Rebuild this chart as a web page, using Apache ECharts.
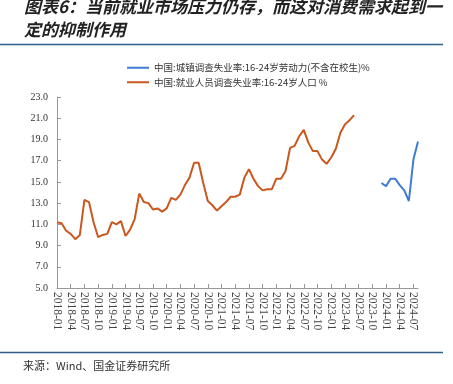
<!DOCTYPE html>
<html><head><meta charset="utf-8">
<script src="https://cdn.jsdelivr.net/npm/echarts@6/dist/echarts.min.js"></script>
<style>html,body{margin:0;padding:0;background:#fff}#c{width:453px;height:384px}</style>
</head><body><div id="c"></div>
<script>
// ---- data ----
const titleLines = ['图表6：当前就业市场压力仍存，而这对消费需求起到一', '定的抑制作用'];
const sourceText = '来源：Wind、国金证券研究所';
const firstYear = 2018, firstMonth = 1, lastYear = 2024, lastMonth = 8;
const categories = [];
for (let y = firstYear; y <= lastYear; y++) {
  for (let m = 1; m <= 12; m++) {
    if (y === firstYear && m < firstMonth) continue;
    if (y === lastYear && m > lastMonth) break;
    categories.push(y + '-' + (m < 10 ? '0' + m : '' + m));
  }
}
const seriesNames = ['中国:城镇调查失业率:16-24岁劳动力(不含在校生)%', '中国:就业人员调查失业率:16-24岁人口 %'];
// old series 2018-01 .. 2023-06
const oldStart = '2018-01';
const oldValues = [
  11.2, 11.1, 10.4, 10.1, 9.6, 10.0, 13.3, 13.1, 11.2, 9.8, 10.0, 10.1,
  11.2, 11.0, 11.3, 9.9, 10.5, 11.5, 13.9, 13.1, 13.0, 12.4, 12.5, 12.2,
  12.5, 13.5, 13.3, 13.8, 14.7, 15.4, 16.8, 16.8, 14.9, 13.2, 12.8, 12.3,
  12.7, 13.1, 13.6, 13.6, 13.8, 15.4, 16.2, 15.3, 14.6, 14.2, 14.3, 14.3,
  15.3, 15.3, 16.0, 18.2, 18.4, 19.3, 19.9, 18.7, 17.9, 17.9, 17.1, 16.7,
  17.3, 18.1, 19.6, 20.4, 20.8, 21.3
];
// new series 2023-12 .. 2024-08
const newStart = '2023-12';
const newValues = [14.9, 14.6, 15.3, 15.3, 14.7, 14.2, 13.2, 17.1, 18.8];
const yMin = 5, yMax = 23, yStep = 2;

function place(start, vals) {
  const s = categories.indexOf(start);
  return categories.map((c, i) => (i >= s && i - s < vals.length) ? vals[i - s] : null);
}

const chart = echarts.init(document.getElementById('c'), null, {renderer: 'canvas'});
const serif = '"Liberation Serif", "Times New Roman", serif';
const cjk = '"Noto Sans CJK SC", sans-serif';
chart.setOption({
  animation: false,
  backgroundColor: '#fff',
  graphic: [
    {type: 'text', left: 24, top: -2, style: {text: titleLines[0], font: 'italic bold 17px ' + cjk, fill: '#222'}},
    {type: 'text', left: 24, top: 21, style: {text: titleLines[1], font: 'italic bold 17px ' + cjk, fill: '#222'}},
    {type: 'line', shape: {x1: 0, y1: 44.5, x2: 443, y2: 44.5}, style: {stroke: '#2E5F8A', lineWidth: 1.5}},
    {type: 'line', shape: {x1: 0, y1: 352.5, x2: 443, y2: 352.5}, style: {stroke: '#2E5F8A', lineWidth: 1.5}},
    {type: 'text', left: 23, top: 360, style: {text: sourceText, font: '11px ' + cjk, fill: '#333'}}
  ],
  legend: {
    orient: 'vertical', left: 122, top: 58, itemGap: 5, itemWidth: 22, itemHeight: 2,
    icon: 'rect',
    textStyle: {fontFamily: cjk, fontSize: 9.5, color: '#333'},
    data: seriesNames
  },
  grid: {left: 57, right: 35, top: 97, bottom: 96, containLabel: false},
  xAxis: {
    type: 'category', data: categories, boundaryGap: false,
    axisLine: {lineStyle: {color: '#999', width: 1}},
    axisTick: {inside: true, length: 4, interval: 2, lineStyle: {color: '#999'}},
    axisLabel: {interval: 2, rotate: -90, margin: 4, fontFamily: serif, fontSize: 11.5, color: '#444'}
  },
  yAxis: {
    type: 'value', min: yMin, max: yMax, interval: yStep,
    splitLine: {show: false},
    axisLine: {show: true, lineStyle: {color: '#999', width: 1}},
    axisTick: {show: true, inside: true, length: 4, lineStyle: {color: '#999'}},
    axisLabel: {formatter: v => v.toFixed(1), fontFamily: serif, fontSize: 10, color: '#333', margin: 9}
  },
  series: [
    {name: seriesNames[0], type: 'line', data: place(newStart, newValues), symbol: 'none',
     itemStyle: {color: '#3F7DD4'}, lineStyle: {color: '#3F7DD4', width: 2}, connectNulls: false},
    {name: seriesNames[1], type: 'line', data: place(oldStart, oldValues), symbol: 'none',
     itemStyle: {color: '#C9581F'}, lineStyle: {color: '#C9581F', width: 2}, connectNulls: false}
  ]
});
</script></body></html>
